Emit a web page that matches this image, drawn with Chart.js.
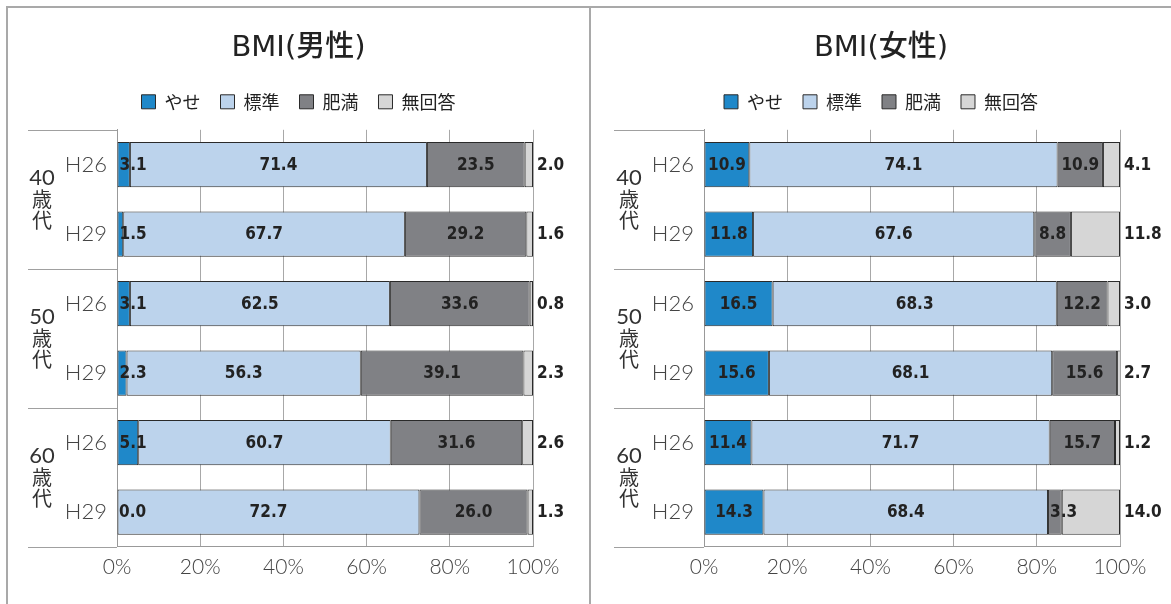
<!DOCTYPE html>
<html lang="ja">
<head>
<meta charset="utf-8">
<title>BMI</title>
<script src="https://cdn.jsdelivr.net/npm/chart.js@4.4.1/dist/chart.umd.min.js"></script>
<style>
  body { margin: 0; background: #fff; width: 1171px; height: 604px; overflow: hidden; position: relative; }
  .panel { position: absolute; top: 6px; height: 596px; border-left: 2px solid #a9a9a9; border-top: 2px solid #a9a9a9; }
  #p1 { left: 6px; width: 581px; }
  #p2 { left: 589px; width: 580px; }
  canvas { display: block; }
</style>
</head>
<body>
<div class="panel" id="p1"><canvas id="chartMale" width="581" height="596"></canvas></div>
<div class="panel" id="p2"><canvas id="chartFemale" width="580" height="596"></canvas></div>
<script>
// データ
const yearLabels = ["H26", "H29", "H26", "H29", "H26", "H29"];
const ageGroups = ["40歳代", "50歳代", "60歳代"];
const seriesNames = ["やせ", "標準", "肥満", "無回答"];
const seriesColors = ["#1f88c9", "#bcd3ec", "#808185", "#d6d6d6"];

// 男性
const maleYase   = [3.1, 1.5, 3.1, 2.3, 5.1, 0.0];
const maleHyojun = [71.4, 67.7, 62.5, 56.3, 60.7, 72.7];
const maleHiman  = [23.5, 29.2, 33.6, 39.1, 31.6, 26.0];
const maleMukaito = [2.0, 1.6, 0.8, 2.3, 2.6, 1.3];

// 女性
const femaleYase   = [10.9, 11.8, 16.5, 15.6, 11.4, 14.3];
const femaleHyojun = [74.1, 67.6, 68.3, 68.1, 71.7, 68.4];
const femaleHiman  = [10.9, 8.8, 12.2, 15.6, 15.7, 3.3];
const femaleMukaito = [4.1, 11.8, 3.0, 2.7, 1.2, 14.0];

const FONT = "'Noto Sans CJK JP', 'Noto Sans', sans-serif";
const THIN = "Lato, 'Noto Sans CJK JP', sans-serif";
Chart.defaults.font.family = FONT;

// 凡例の高さを固定する
const legendSpace = {
  id: "legendSpace",
  beforeInit(chart) {
    const fit = chart.legend.fit;
    chart.legend.fit = function() {
      fit.bind(chart.legend)();
      this.height = 57;
    };
  }
};

// 年代ラベルと区切り線
const groupLabels = {
  id: "groupLabels",
  afterDraw(chart, args, opts) {
    const { ctx, chartArea } = chart;
    const y = chart.scales.y;
    const bounds = [chartArea.top];
    for (let g = 1; g < ageGroups.length; g++) bounds.push(y.getPixelForValue(g * 2 - 0.5));
    bounds.push(chartArea.bottom);
    ctx.save();
    ctx.strokeStyle = "#a0a0a0";
    ctx.lineWidth = 1;
    bounds.forEach(b => {
      const yy = Math.round(b) + 0.5;
      ctx.beginPath();
      ctx.moveTo(opts.lineLeft, yy);
      ctx.lineTo(chartArea.left, yy);
      ctx.stroke();
    });
    ctx.fillStyle = "#333";
    ctx.textAlign = "center";
    ctx.textBaseline = "middle";
    ageGroups.forEach((name, g) => {
      const parts = [name.slice(0, 2), name[2], name[3]];
      const mid = (bounds[g] + bounds[g + 1]) / 2;
      parts.forEach((t, i) => {
        ctx.font = i === 0 ? "22px " + THIN : "20px " + FONT;
        ctx.fillText(t, opts.labelX, mid + (i - 1) * 21);
      });
    });
    ctx.restore();
  }
};

// 数値ラベル
const valueLabels = {
  id: "valueLabels",
  afterDatasetsDraw(chart) {
    const { ctx, chartArea } = chart;
    const last = chart.data.datasets.length - 1;
    ctx.save();
    ctx.font = "bold 17px 'DejaVu Sans Condensed', Lato, sans-serif";
    ctx.fillStyle = "#222";
    ctx.textAlign = "left";
    ctx.textBaseline = "middle";
    chart.data.datasets.forEach((ds, i) => {
      chart.getDatasetMeta(i).data.forEach((bar, j) => {
        const text = ds.data[j].toFixed(1);
        const w = ctx.measureText(text).width;
        let x;
        if (i === last) {
          x = chartArea.right + 4;
        } else {
          x = Math.max((bar.base + bar.x) / 2 - w / 2, bar.base + 2);
        }
        ctx.fillText(text, x, bar.y + 1);
      });
    });
    ctx.restore();
  }
};

function makeChart(id, title, values, axisWidth, padWidth, lineLeft, labelX) {
  const ctx = document.getElementById(id).getContext("2d");
  const datasets = seriesNames.map((name, i) => ({
    label: name,
    data: values[i],
    backgroundColor: seriesColors[i],
    borderColor: "#2a2a2a",
    borderWidth: 1,
    borderSkipped: false,
    barPercentage: 0.65,
    categoryPercentage: 1,
    xAxisID: "x",
    yAxisID: "y"
  }));

  return new Chart(ctx, {
    type: "bar",
    data: { labels: yearLabels, datasets: datasets },
    options: {
      indexAxis: "y",
      responsive: false,
      animation: false,
      layout: { padding: { left: 0, right: 0, top: 0, bottom: 16 } },
      scales: {
        x: {
          stacked: true,
          min: 0,
          max: 100,
          ticks: {
            stepSize: 20,
            padding: 8,
            color: "#444",
            font: { family: THIN, size: 21, weight: "300" },
            callback: v => v + "%"
          },
          grid: { color: "#a8a8a8", drawTicks: false },
          border: { color: "#999" }
        },
        y: {
          stacked: true,
          ticks: { padding: 10, color: "#444", font: { family: THIN, size: 22, weight: "300" } },
          grid: { display: false, drawTicks: false },
          border: { color: "#999" },
          afterFit(s) { s.width = axisWidth; }
        },
        pad: {
          axis: "y",
          type: "category",
          position: "right",
          labels: yearLabels,
          ticks: { display: false },
          grid: { display: false, drawTicks: false },
          border: { display: false },
          afterFit(s) { s.width = padWidth; }
        }
      },
      plugins: {
        title: {
          display: true,
          text: title,
          color: "#222",
          font: { family: "'DejaVu Sans', 'Noto Sans CJK JP', sans-serif", size: 29, weight: "500" },
          padding: { top: 23, bottom: 7 }
        },
        legend: {
          labels: {
            boxWidth: 14,
            boxHeight: 14,
            padding: 20,
            color: "#222",
            font: { size: 18 }
          }
        },
        tooltip: { enabled: false },
        groupLabels: { lineLeft: lineLeft, labelX: labelX }
      }
    },
    plugins: [legendSpace, groupLabels, valueLabels]
  });
}

makeChart("chartMale", "BMI(男性)",
  [maleYase, maleHyojun, maleHiman, maleMukaito], 109, 56, 20, 34);
makeChart("chartFemale", "BMI(女性)",
  [femaleYase, femaleHyojun, femaleHiman, femaleMukaito], 113, 51, 23, 38);
</script>
</body>
</html>
